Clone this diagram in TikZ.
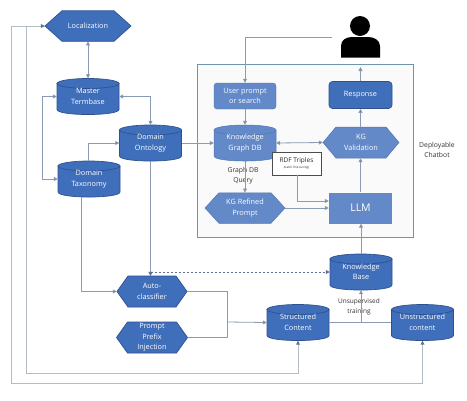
\documentclass[tikz,border=0pt]{standalone}
\usepackage{fontspec}
\setmainfont{Open Sans}
\usetikzlibrary{arrows.meta,calc}
\definecolor{blueA}{HTML}{3F6EBB}
\definecolor{blueL}{HTML}{6389C9}
\definecolor{edgeA}{HTML}{2F528F}
\definecolor{edgeL}{HTML}{5276B0}
\definecolor{wire}{HTML}{8A9BB3}
\definecolor{wirepale}{HTML}{B4BCC8}
\definecolor{tipc}{HTML}{5F7392}
\tikzset{
  x=1pt,y=-1pt,
  lbl/.style={font=\fontsize{7.3}{10.5}\selectfont,text=white,align=center,inner sep=0pt},
  darkshape/.style={fill=blueA,draw=edgeA,line width=.7pt},
  lightshape/.style={fill=blueL,draw=edgeL,line width=.5pt},
  wired/.style={draw=wire,line width=.8pt,-{Triangle[length=4pt,width=4pt,fill=tipc]}},
  wirebi/.style={draw=wire,line width=.8pt,{Triangle[length=4pt,width=4pt,fill=tipc]}-{Triangle[length=4pt,width=4pt,fill=tipc]}},
  wiredash/.style={wirebi,draw=tipc,dash pattern=on 2.5pt off 1.5pt},
  wireplain/.style={draw=wire,line width=.8pt},
  pale/.style={draw=wirepale,line width=1pt},
  caption/.style={font=\fontsize{6.8}{10}\selectfont,text=black!80,align=center,inner sep=0pt}
}
% \dbnode{look}{name}{cx}{cy}{text}
\newcommand\dbnode[5]{%
  \begin{scope}[shift={(#3,#4)}]
    \path[#1] (-31,-13) -- (-31,13) .. controls (-31,19.7) and (31,19.7) .. (31,13) -- (31,-13) -- cycle;
    \path[#1] (0,-13) ellipse [x radius=31,y radius=5];
  \end{scope}
  \node[lbl,minimum width=62pt,minimum height=36pt] (#2) at (#3,#4) {\raisebox{-3pt}{\parbox{62pt}{\centering #5}}};%
}
% \hexnode{look}{name}{cx}{cy}{w}{h}{tip}{text}
\newcommand\hexnode[8]{%
  \begin{scope}[shift={(#3,#4)}]
    \path[#1] ({-(#5)/2},0) -- ({-(#5)/2+#7},{-(#6)/2}) -- ({(#5)/2-#7},{-(#6)/2}) -- ({(#5)/2},0) -- ({(#5)/2-#7},{(#6)/2}) -- ({-(#5)/2+#7},{(#6)/2}) -- cycle;
  \end{scope}
  \node[lbl,minimum width=#5pt,minimum height=#6pt] (#2) at (#3,#4) {#8};%
}
\begin{document}
\begin{tikzpicture}
\useasboundingbox (0,0) rectangle (467,400);
\fill[white] (0,0) rectangle (467,400);
% container
\node[draw=wire!80!teal,fill=black!2,line width=.9pt,minimum width=216pt,minimum height=173pt,inner sep=0pt] (bot) at (305,150.5) {};
% person
\fill[black] (360,26) circle (10);
\fill[black] (341,57.5) -- (341,46) .. controls (341,40) and (346,37) .. (352,37) -- (368,37) .. controls (374,37) and (380,40) .. (380,46) -- (380,57.5) -- cycle;
\coordinate (personL) at (332,37);
\coordinate (personB) at (360.5,67);
% nodes
\hexnode{darkshape}{loc}{88}{26}{86}{30.5}{17}{Localization}
\dbnode{darkshape}{master}{88}{96.5}{Master\\Termbase}
\dbnode{darkshape}{onto}{150.5}{143}{Domain\\Ontology}
\dbnode{darkshape}{tax}{89}{179}{Domain\\Taxonomy}
\node[lbl,fill=blueL,draw=edgeL,line width=.4pt,rounded corners=3pt,minimum width=62pt,minimum height=26pt] (user) at (245,96) {User prompt\\or search};
\dbnode{lightshape}{kg}{245}{143}{Knowledge\\Graph DB}
\node[lbl,fill=blueA,draw=edgeA,line width=.7pt,rounded corners=3.5pt,minimum width=63pt,minimum height=27pt] (resp) at (360.5,95) {Response};
\hexnode{lightshape}{val}{361}{142.5}{76}{31}{13}{KG\\Validation}
\hexnode{lightshape}{ref}{245}{208}{80}{30.5}{14}{KG Refined\\Prompt}
\node[lbl,fill=blueL,minimum width=63pt,minimum height=31pt,font=\fontsize{10.5}{13}\selectfont] (llm) at (360.5,208) {LLM};
\node[draw=black!70,fill=white,line width=.6pt,minimum width=49pt,minimum height=23pt,inner sep=0pt,align=center,text=black!85,font=\fontsize{6.5}{7.5}\selectfont] (rdf) at (296.5,163.5) {RDF Triples\\[-1pt]{\fontsize{3}{4}\selectfont (batch fine tuning)}};
\dbnode{darkshape}{kb}{361}{272}{Knowledge\\Base}
\dbnode{darkshape}{struct}{298}{322.5}{Structured\\Content}
\dbnode{darkshape}{unstruct}{422.5}{322.5}{Unstructured\\content}
\hexnode{darkshape}{auto}{152}{291.5}{70}{31}{11}{Auto-\\classifier}
\hexnode{darkshape}{pref}{152}{337.5}{71}{31}{11}{Prompt\\Prefix\\Injection}
% captions
\node[caption] (capq) at (243,176) {Graph DB\\Query};
\node[caption] (capd) at (437,150) {Deployable\\Chatbot};
\node[caption,font=\fontsize{6.5}{10}\selectfont] (capu) at (359,307) {Unsupervised\\training};
% helper coordinates
\coordinate (m1) at (42,96);
\coordinate (j1) at (227,322);
\coordinate (j2) at (361,322);
\coordinate (o1) at (11,383);
\coordinate (o2) at (26,373);
% connectors
\draw[wirebi] (loc.south) -- (master.north);
\draw[wirebi] (master.west) -- (m1 |- master.west) -- (m1 |- tax.west) -- (tax.west);
\draw[wirebi] (master.east) -| (onto.north);
\draw[wired] (88,161) |- (onto.west);
\draw[wired] (onto.east) -- (kg.west);
\draw[wired] (onto.south) -- (onto.south |- auto.north);
\draw[wired] (81,197) |- (auto.west);
\draw[wiredash] (onto.south |- auto.north) |- (kb.west);
\draw[wireplain] (auto.east) -| (j1);
\draw[wireplain] (pref.east) -| (j1);
\draw[wired] (j1) -- (struct.west);
\draw[wireplain] (struct.east) -- (unstruct.west);
\draw[wired] (j2) -- (kb.south);
\draw[wired] (kb.north) -- (llm.south -| kb.north);
\draw[wired] (llm.north) -- (val.south -| llm.north);
\draw[wired] (val.north -| llm.north) -- (resp.south);
\draw[wired] (resp.north) -- (personB);
\draw[wired] (personL) -| (user.north);
\draw[wired] (user.south) -- (kg.north);
\draw[wirebi] (kg.east) -- (val.west);
\draw[wired] (kg.south) -- (ref.north);
\draw[wired] (ref.east) -- (llm.west);
\draw[wired] ($(rdf.south)+(0.5,0)$) |- ($(llm.west)+(0,-7)$);
% long return lines
\draw[pale] (unstruct.south) ++(0,3) -- (unstruct.south |- o1) -- (o1) -- (o1 |- loc.west) -- (loc.west);
\draw[pale] (struct.south) ++(0,3) -- (struct.south |- o2) -- (o2) -- (o2 |- loc.west);
\fill[tipc] (unstruct.south) -- ++(-2,4) -- ++(4,0) -- cycle;
\fill[tipc] (struct.south) -- ++(-2,4) -- ++(4,0) -- cycle;
\fill[tipc] (loc.west) -- ++(-4,-2) -- ++(0,4) -- cycle;
\end{tikzpicture}
\end{document}
